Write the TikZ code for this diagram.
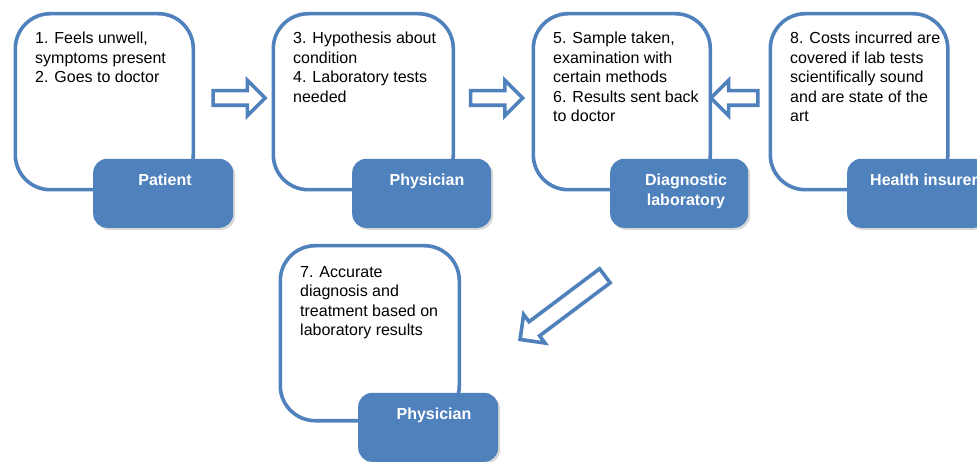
\documentclass[tikz,border=0pt]{standalone}
\usepackage{fontspec}
\setmainfont{Liberation Sans}
\usetikzlibrary{shapes.arrows,shadows}
\definecolor{ablue}{RGB}{79,129,189}
\begin{document}
\begin{tikzpicture}[x=1pt,y=1pt,
  outerbox/.style={draw=ablue, line width=3.6pt, fill=white, rounded corners=35pt, anchor=south west, inner sep=0pt},
  labelbox/.style={fill=ablue, rounded corners=14pt, anchor=south west, inner sep=0pt, minimum height=69pt,
    drop shadow={shadow xshift=2pt,shadow yshift=-2pt,opacity=0.3}},
  bodytext/.style={anchor=north west, inner sep=0pt, align=left, font=\fontsize{16}{19.5}\selectfont},
  labeltext/.style={anchor=north, inner sep=0pt, align=center, text=white, font=\fontsize{16}{19.5}\selectfont\bfseries},
  flowarrow/.style={single arrow, draw=ablue, line width=3.6pt, fill=white, inner xsep=0pt, inner ysep=5.5pt,
    single arrow head extend=10.5pt, single arrow tip angle=90, minimum width=0pt}
]
\clip (0,0) rectangle (977,461);
\fill[white] (0,0) rectangle (977,461);

% outer boxes
\node[outerbox, minimum width=178pt, minimum height=176pt] (box1) at (13.5,269.5) {};
\node[outerbox, minimum width=180pt, minimum height=176pt] (box2) at (271.5,269.5) {};
\node[outerbox, minimum width=177pt, minimum height=176pt] (box3) at (531.5,269.5) {};
\node[outerbox, minimum width=177.5pt, minimum height=176pt] (box4) at (768.5,269.5) {};
\node[outerbox, minimum width=179pt, minimum height=175pt] (box5) at (278.5,38.5) {};

% label boxes
\node[labelbox, minimum width=140pt] (lab1) at (93,233) {};
\node[labelbox, minimum width=139pt] (lab2) at (352,233) {};
\node[labelbox, minimum width=138pt] (lab3) at (610,233) {};
\node[labelbox, minimum width=140pt] (lab4) at (847,233) {};
\node[labelbox, minimum width=140pt] (lab5) at (358,-1) {};

% label texts
\node[labeltext] (lt1) at (165,287) {Patient};
\node[labeltext] (lt2) at (427,287) {Physician};
\node[labeltext] (lt3) at (686,287) {Diagnostic\\laboratory};
\node[labeltext] (lt4) at (924,287) {Health insurer};
\node[labeltext] (lt5) at (434,53) {Physician};

% body texts
\node[bodytext] (t1) at (35,429) {1. Feels unwell,\\symptoms present\\2. Goes to doctor};
\node[bodytext] (t2) at (293,429) {3. Hypothesis about\\condition\\4. Laboratory tests\\needed};
\node[bodytext] (t3) at (553,429) {5. Sample taken,\\examination with\\certain methods\\6. Results sent back\\to doctor};
\node[bodytext] (t4) at (790,429) {8. Costs incurred are\\covered if lab tests\\scientifically sound\\and are state of the\\art};
\node[bodytext] (t5) at (300,195) {7. Accurate\\diagnosis and\\treatment based on\\laboratory results};

% arrows
\node[flowarrow, minimum height=52pt] (arr1) at (235.5,363) {};
\node[flowarrow, minimum height=52pt] (arr2) at (493,363) {};
\node[flowarrow, minimum height=47pt, shape border rotate=180] (arr3) at (738,363) {};
\node[flowarrow, minimum height=106pt, inner ysep=7pt, single arrow head extend=9pt, rotate=216.9] (arr4) at (566,156) {};
\end{tikzpicture}
\end{document}
